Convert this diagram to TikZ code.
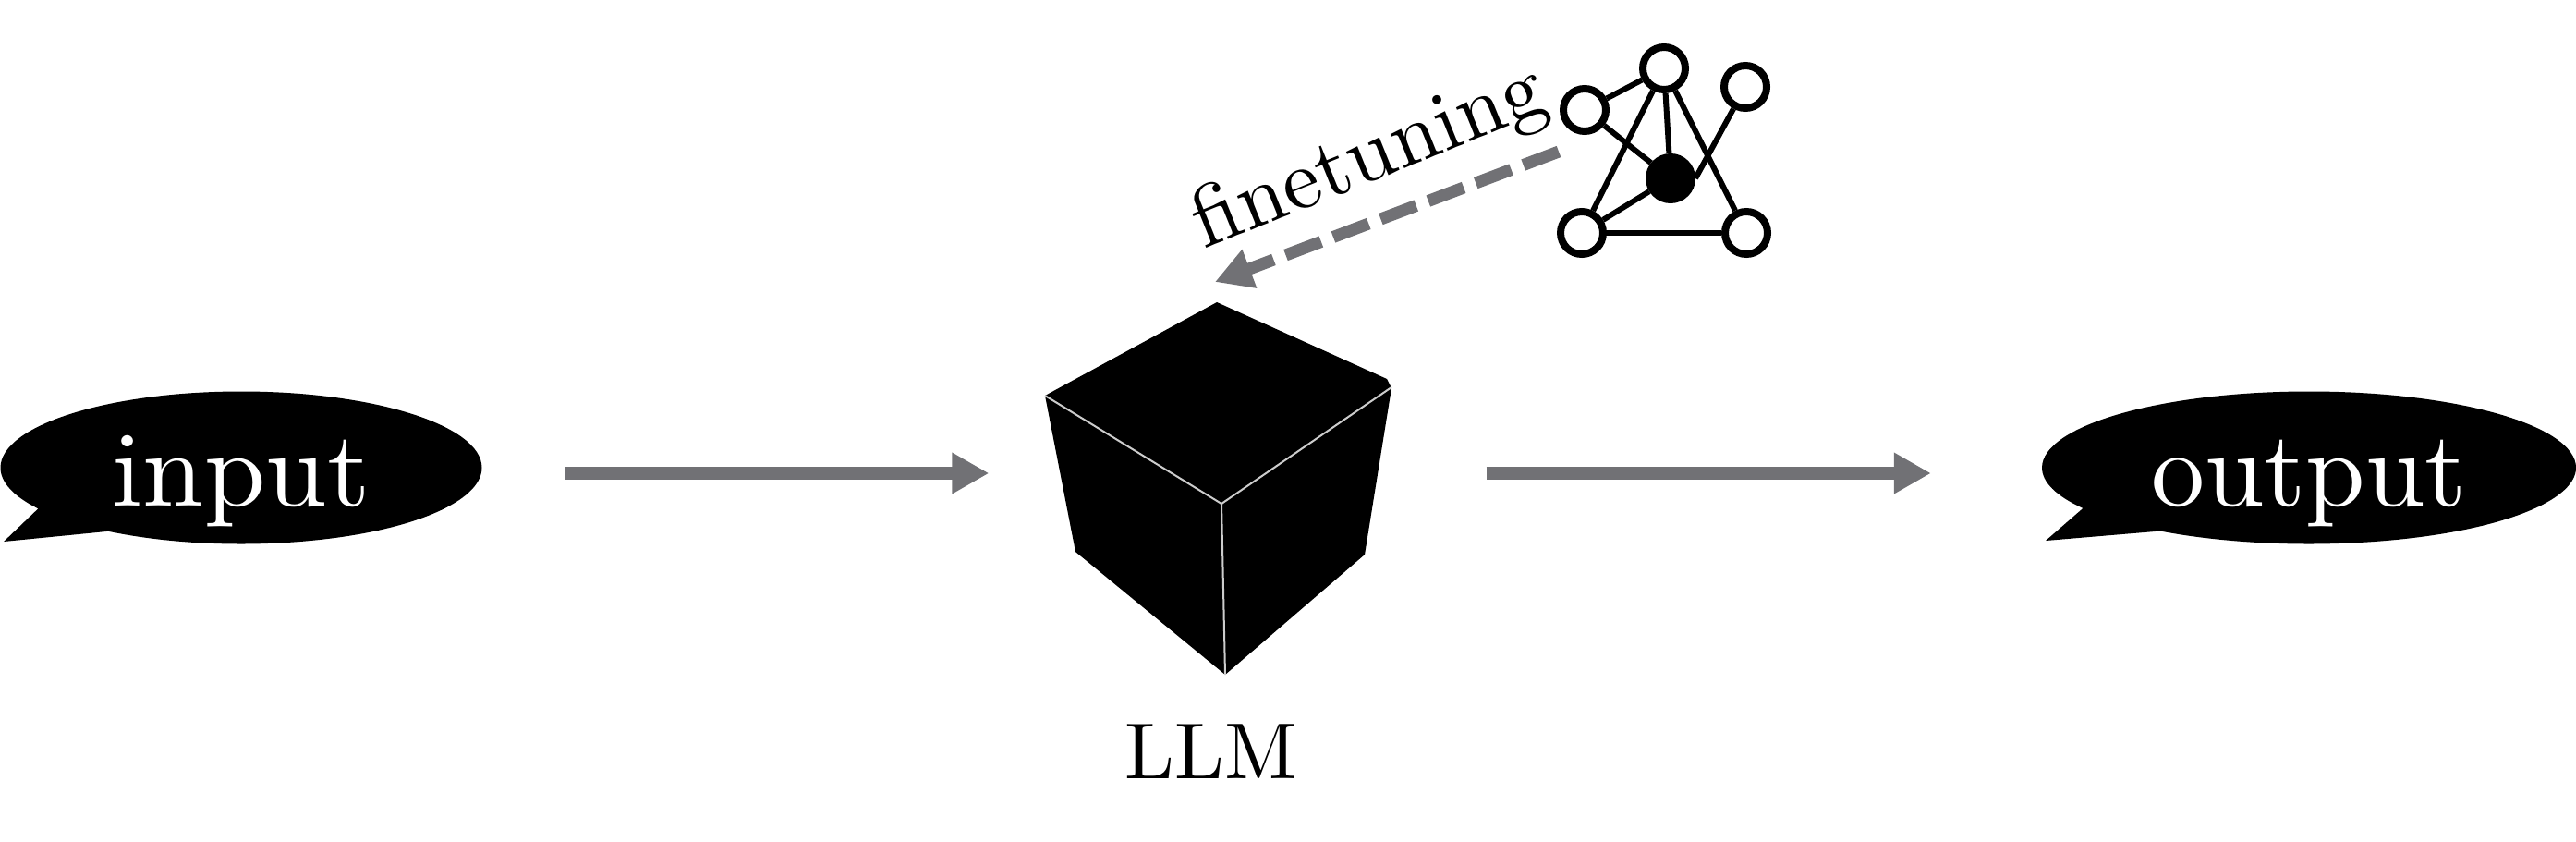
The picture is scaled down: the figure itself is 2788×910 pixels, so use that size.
\documentclass[tikz,border=0pt]{standalone}
\usetikzlibrary{positioning,arrows.meta,shapes.callouts}
\definecolor{ink}{HTML}{717175}

\begin{document}
\begin{tikzpicture}[x=1pt,y=-1pt,node distance=50pt,
  bubble/.style={ellipse callout,fill=black,inner sep=0pt,minimum height=165pt,callout pointer arc=24},
  bubbletext/.style={anchor=base,text=white,inner sep=0pt,scale=11.6},
  flow/.style={-{Triangle[length=40pt,width=42pt]},draw=ink,line width=14pt},
  unit/.style={circle,draw=black,fill=white,line width=8pt,minimum size=46pt,inner sep=0pt},
  hub/.style={unit,fill=black},
  link/.style={draw=black,line width=6pt},
  edge/.style={draw=black!20,line width=2pt}]
\useasboundingbox (0,0) rectangle (2788,910);
% speech bubbles
\node[bubble,minimum width=521pt,callout absolute pointer={(4,586)}] (input) at (261,506) {};
\node[bubbletext,xscale=1.03] (intext) at (261,547) {input};
\node[bubble,minimum width=578pt,callout absolute pointer={(2214,585)}] (output) at (2499,506) {};
\node[bubbletext] (outtext) at (2499,547) {output};
% cube
\node[minimum width=375pt,minimum height=403pt,inner sep=0pt] (cube) at (1318,528.5) {};
\fill[black] (1131,428)--(1317,327)--(1501,410)--(1506,420)--(1477,600)--(1326,730)--(1164,597)--cycle;
\draw[edge] (1131,428)--(1322,545)--(1506,419);
\draw[edge] (1322,545)--(1326,730);
\node[below=52pt of cube,xshift=-7pt,inner sep=0pt,scale=8.6] (llm) {LLM};
\draw[flow] ([xshift=90pt,yshift=-6pt]input.east)--([xshift=-60pt,yshift=16.5pt]cube.west);
\draw[flow] ([xshift=103pt,yshift=16.5pt]cube.east)--([xshift=-120pt,yshift=-6pt]output.west);
% small network
\node[unit] (left) at (1715,119) {};
\node[unit] (top) at (1801,74) {};
\node[unit] (right) at (1889,94) {};
\node[unit] (lowleft) at (1712,252) {};
\node[unit] (lowright) at (1890,252) {};
\node[hub] (mid) at (1808,193) {};
\foreach \a/\b in {left/top,left/mid,top/mid,top/lowleft,top/lowright,lowleft/mid,lowleft/lowright}
  \draw[link] (\a)--(\b);
\draw[link] (right)--(mid.east);
% finetuning arrow
\coordinate (finefrom) at (1687,164);
\coordinate (fineto) at (1315,305);
\draw[flow,line width=13pt,dash pattern=on 41pt off 14pt] (finefrom)--(fineto);
\node[anchor=base,rotate=22,inner sep=0pt,scale=9.2] (finetext) at (1491,194) {finetuning};
\end{tikzpicture}
\end{document}
